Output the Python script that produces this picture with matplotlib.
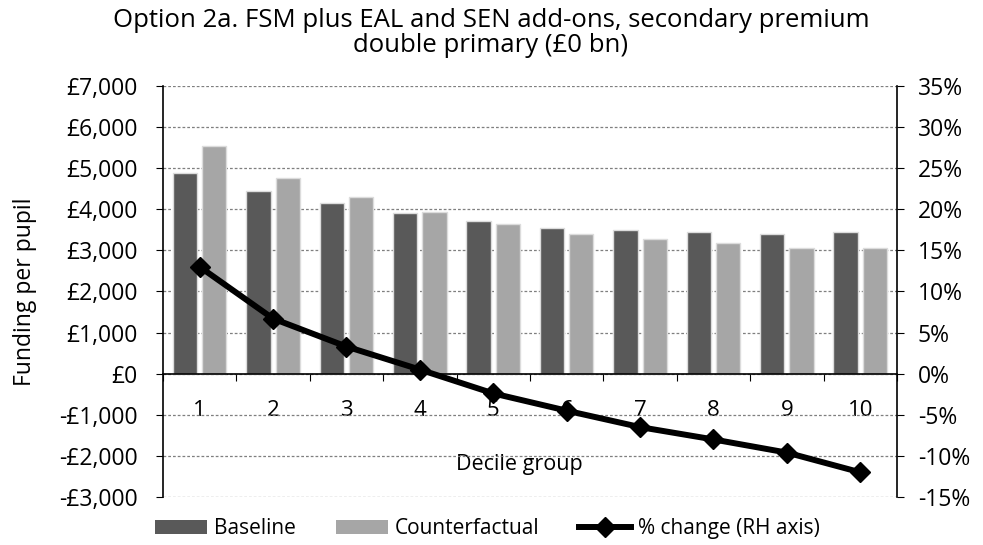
import matplotlib
matplotlib.use("Agg")
import matplotlib.pyplot as plt
import numpy as np
from matplotlib.ticker import FuncFormatter, MultipleLocator
from matplotlib.patches import Patch
from matplotlib.lines import Line2D

plt.rcParams['font.family'] = ['Open Sans', 'DejaVu Sans']

# ---------------- data ----------------
deciles = ['1', '2', '3', '4', '5', '6', '7', '8', '9', '10']
baseline = [4895, 4445, 4165, 3905, 3715, 3555, 3500, 3455, 3390, 3455]
counterfactual = [5550, 4750, 4300, 3925, 3635, 3395, 3275, 3180, 3065, 3050]
pct_change = [13.0, 6.7, 3.3, 0.5, -2.4, -4.5, -6.5, -8.0, -9.6, -12.0]

title = "Option 2a. FSM plus EAL and SEN add-ons, secondary premium\ndouble primary (£0 bn)"

# ---------------- plot ----------------
fig = plt.figure(figsize=(9.83, 5.45), dpi=100)
ax = fig.add_axes([0.1658, 0.0881, 0.7467, 0.7541])

x = np.arange(1, len(deciles) + 1)
w = 0.33
ax.bar(x - 0.2, baseline, w, color='#595959', edgecolor='#dcdcdc', linewidth=1.0, zorder=2)
ax.bar(x + 0.2, counterfactual, w, color='#a6a6a6', edgecolor='#dcdcdc', linewidth=1.0, zorder=2)

ax.set_xlim(0.5, 10.5)
ax.set_ylim(-3000, 7000)
ax.yaxis.set_major_locator(MultipleLocator(1000))
ax.yaxis.set_major_formatter(FuncFormatter(
    lambda v, p: ('-£{:,.0f}' if v < 0 else '£{:,.0f}').format(abs(v))))
ax.set_axisbelow(True)
ax.grid(axis='y', color='#7f7f7f', linestyle=(0, (2.2, 1.6)), linewidth=0.9)

# x axis sits on the zero line
ax.spines['bottom'].set_position(('data', 0))
ax.spines['bottom'].set_linewidth(1.2)
ax.spines['top'].set_visible(False)
ax.spines['left'].set_linewidth(1.2)
ax.spines['right'].set_visible(False)
ax.set_xticks(np.arange(0.5, 11.5, 1))
ax.set_xticklabels([])
ax.set_xticks(x, minor=True)
ax.set_xticklabels(deciles, minor=True)
ax.tick_params(axis='x', which='major', direction='out', length=5, width=0.8)
ax.tick_params(axis='x', which='minor', length=0, pad=19, labelsize=16)
ax.tick_params(axis='y', direction='out', length=5, width=0.8, labelsize=16.5, pad=13)

ax.set_xlabel('Decile group', fontsize=15.5)
ax.xaxis.label.set_va('center')
ax.xaxis.set_label_coords(0.485, 0.078)
ax.set_ylabel('Funding per pupil', fontsize=16.5)
ax.yaxis.set_label_coords(-0.172, 0.5)

ax2 = ax.twinx()
ax2.plot(x, pct_change, color='black', linewidth=4.3, marker='D', markersize=10, zorder=3)
ax2.set_ylim(-15, 35)
ax2.yaxis.set_major_locator(MultipleLocator(5))
ax2.yaxis.set_major_formatter(FuncFormatter(lambda v, p: '{:.0f}%'.format(v)))
ax2.tick_params(axis='y', direction='out', length=5, width=0.8, labelsize=16.5, pad=10)
for s in ['top', 'bottom', 'left']:
    ax2.spines[s].set_visible(False)
ax2.spines['right'].set_linewidth(1.2)

fig.text(0.4995, 0.985, title, ha='center', va='top', fontsize=18.5, linespacing=0.98)

handles = [Patch(facecolor='#595959', edgecolor='none'),
           Patch(facecolor='#a6a6a6', edgecolor='none'),
           Line2D([], [], color='black', linewidth=4.3, marker='D', markersize=10)]
fig.legend(handles, ['Baseline', 'Counterfactual', '% change (RH axis)'],
           loc='center left', bbox_to_anchor=(0.1577, 0.0294), ncol=3, frameon=False,
           fontsize=15, handlelength=2.5, handleheight=0.62, handletextpad=0.34,
           columnspacing=1.9, borderaxespad=0, borderpad=0)

fig.savefig('out.png', dpi=100)
